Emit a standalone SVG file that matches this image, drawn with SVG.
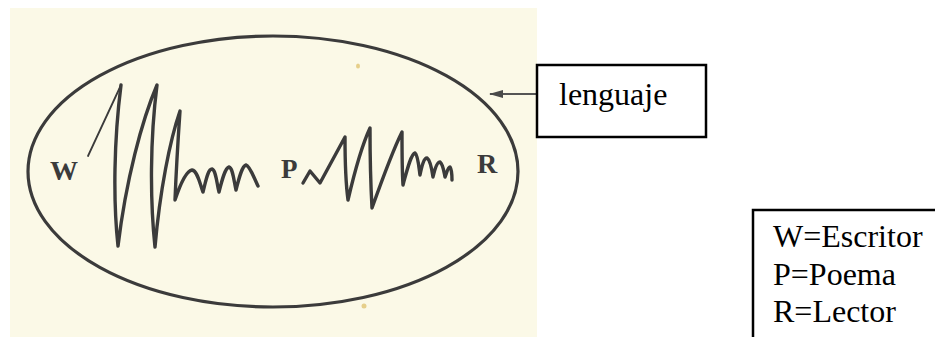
<svg xmlns="http://www.w3.org/2000/svg" width="935" height="337" viewBox="0 0 935 337">
<defs>
<style>
.ink{fill:none;stroke:#3b3b3b;stroke-linecap:round;stroke-linejoin:round}
.box{fill:#ffffff;stroke:#000000;stroke-width:2.5}
</style>
<marker id="ah" viewBox="0 0 14 8" refX="13" refY="4" markerWidth="14" markerHeight="8" markerUnits="userSpaceOnUse" orient="auto">
<path d="M0,0 L14,4 L0,8 Z" fill="#4a4a4a"/>
</marker>
</defs>
<rect x="0" y="0" width="935" height="337" fill="#ffffff"/>
<g id="paper">
<rect x="10" y="8" width="527" height="329" fill="#fbf9e7"/>
<ellipse cx="358" cy="66" rx="2" ry="2.5" fill="#e6cf8a"/>
<ellipse cx="364" cy="306" rx="2.5" ry="2.5" fill="#e6cf8a"/>
</g>
<g id="lenguaje-ellipse">
<ellipse cx="273" cy="171.5" rx="245" ry="135.5" fill="none" stroke="#3b3b3b" stroke-width="3.2"/>
</g>
<g id="waves">
<path class="ink" stroke-width="1.8" d="M88,156 L121,85"/>
<path class="ink" stroke-width="3.4" d="M121,85 C114,140 113,200 118,246 C126,180 142,120 157,85 C150,140 150,200 155,247 C160,190 170,140 180,111 C178,140 176,175 175,200 C180,185 186,171 192,170 C198,171 200,185 203,192 C206,180 208,169 212,169 C216,170 217,185 219,192 C222,180 225,168 229,167 C233,168 234,182 236,190 C239,178 242,166 246,165 C250,166 254,178 258,186"/>
<path class="ink" stroke-width="3.4" d="M303,183 L310,171 L320,183 L345,137 C345,160 346,185 348,200 C355,170 362,145 370,128 C370,160 371,190 372,208 C382,180 393,150 402,132 C402,150 402,170 403,185 C407,170 411,154 415,153 C418,155 419,168 420,175 C422,165 424,158 427,158 C430,160 432,170 433,177 C435,168 437,162 440,162 C443,164 444,172 445,177 C447,172 448,167 450,167 C452,170 452,176 452,180"/>
</g>
<g id="node-W"><text x="50" y="180" font-family="'Liberation Serif','Times New Roman',serif" font-weight="bold" font-size="28" fill="#3b3b3b">W</text></g>
<g id="node-P"><text x="281" y="178" font-family="'Liberation Serif','Times New Roman',serif" font-weight="bold" font-size="27" fill="#3b3b3b">P</text></g>
<g id="node-R"><text x="477" y="173" font-family="'Liberation Serif','Times New Roman',serif" font-weight="bold" font-size="28" fill="#3b3b3b">R</text></g>
<g id="connectors">
<line x1="537" y1="94" x2="490" y2="94" stroke="#555555" stroke-width="2" marker-end="url(#ah)"/>
</g>
<g id="node-lenguaje">
<rect class="box" x="537" y="65" width="169" height="72"/>
<text x="559" y="105" font-family="'Liberation Serif','Times New Roman',serif" font-size="32" fill="#000000">lenguaje</text>
</g>
<g id="node-legend">
<rect class="box" x="753" y="210" width="200" height="140"/>
<text x="773" y="247" font-family="'Liberation Serif','Times New Roman',serif" font-size="32" fill="#000000">W=Escritor</text>
<text x="773" y="285" font-family="'Liberation Serif','Times New Roman',serif" font-size="32" fill="#000000">P=Poema</text>
<text x="773" y="322" font-family="'Liberation Serif','Times New Roman',serif" font-size="32" fill="#000000">R=Lector</text>
</g>
</svg>
